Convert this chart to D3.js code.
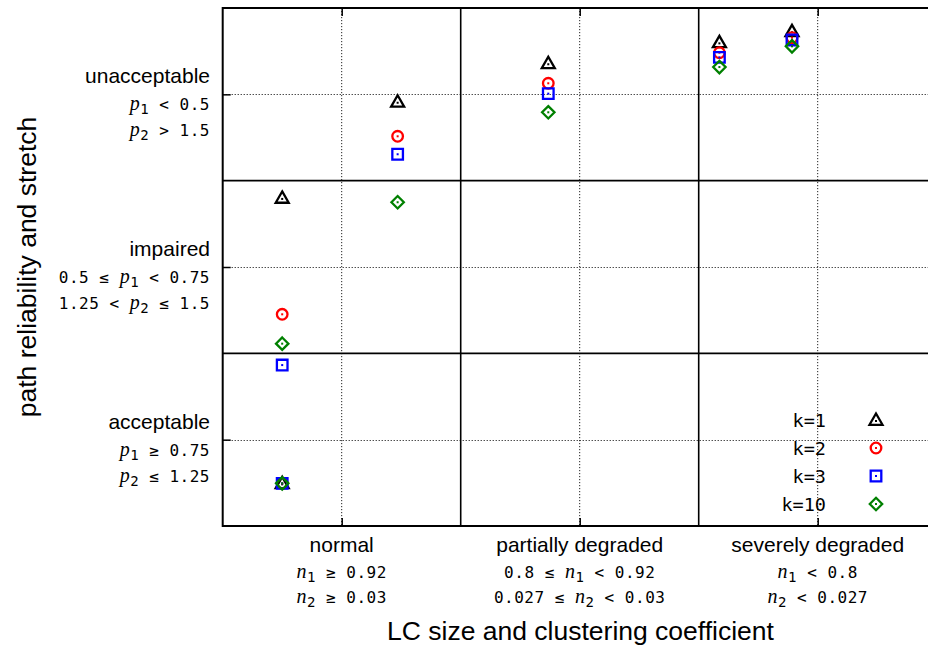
<!DOCTYPE html>
<html>
<head>
<meta charset="utf-8">
<script src="https://cdn.jsdelivr.net/npm/d3@7"></script>
<style>
  body { margin: 0; background: #fff; }
  svg text { white-space: pre; }
  .sans { font-family: "Liberation Sans", Arial, sans-serif; fill: #000; }
  .mono { font-family: "DejaVu Sans Mono", monospace; }
  .var  { font-family: "Liberation Serif", serif; font-style: italic; }
</style>
</head>
<body>
<svg id="chart" width="928" height="648"></svg>
<script>
// ---- data ----------------------------------------------------------------
// Link-quality classes on the y axis (1 = acceptable ... 3 = unacceptable)
const yClassNames = ["acceptable", "impaired", "unacceptable"];
const yCondP1 = ["p_1 ≥ 0.75", "0.5 ≤ p_1 < 0.75", "p_1 < 0.5"];
const yCondP2 = ["p_2 ≤ 1.25", "1.25 < p_2 ≤ 1.5", "p_2 > 1.5"];

// Network-state classes on the x axis (1 = normal ... 3 = severely degraded)
const xClassNames = ["normal", "partially degraded", "severely degraded"];
const xCondN1 = ["n_1 ≥ 0.92", "0.8 ≤ n_1 < 0.92", "n_1 < 0.8"];
const xCondN2 = ["n_2 ≥ 0.03", "0.027 ≤ n_2 < 0.03", "n_2 < 0.027"];

// Scenarios: position on the LC-size / clustering scale
const scenarioX = [0.75, 0.75, 1.235, 1.868, 2.587, 2.892];

// Path reliability / stretch score per scenario, one list per k
const seriesNames = ["k=1", "k=2", "k=3", "k=10"];
const valuesK1  = [2.400, 0.747, 2.957, 3.180, 3.301, 3.365];
const valuesK2  = [1.726, 0.747, 2.757, 3.064, 3.241, 3.328];
const valuesK3  = [1.432, 0.747, 2.653, 3.004, 3.214, 3.315];
const valuesK10 = [1.556, 0.747, 2.375, 2.896, 3.158, 3.278];
const seriesValues = [valuesK1, valuesK2, valuesK3, valuesK10];

const xTitle = "LC size and clustering coefficient";
const yTitle = "path reliability and stretch";

// ---- layout --------------------------------------------------------------
const svg = d3.select("#chart");
const plot = { left: 222.7, right: 936.7, top: 8, bottom: 526 };

const x = d3.scaleLinear().domain([0.5, 3.5]).range([plot.left, plot.right]);
const y = d3.scaleLinear().domain([0.5, 3.5]).range([plot.bottom, plot.top]);

const classTicks = [1, 2, 3];
const classBounds = [1.5, 2.5];

// dotted grid at class centres
const grid = svg.append("g");
grid.selectAll("line.gx").data(classTicks).join("line")
  .attr("x1", d => x(d)).attr("x2", d => x(d))
  .attr("y1", plot.top).attr("y2", plot.bottom)
  .attr("stroke", "#222").attr("stroke-width", 1).attr("stroke-dasharray", "1.2,1.8");
grid.selectAll("line.gy").data(classTicks).join("line")
  .attr("x1", plot.left).attr("x2", plot.right)
  .attr("y1", d => Math.round(y(d)) + 0.5).attr("y2", d => Math.round(y(d)) + 0.5)
  .attr("stroke", "#000").attr("stroke-width", 1).attr("stroke-dasharray", "1,2");

// solid class boundaries
const bounds = svg.append("g").attr("stroke", "#000").attr("stroke-width", 1.6);
bounds.selectAll("line.bx").data(classBounds).join("line")
  .attr("x1", d => x(d)).attr("x2", d => x(d))
  .attr("y1", plot.top).attr("y2", plot.bottom);
bounds.selectAll("line.by").data(classBounds).join("line")
  .attr("x1", plot.left).attr("x2", plot.right)
  .attr("y1", d => y(d)).attr("y2", d => y(d));

// axes: inward ticks only, labels drawn separately
const tick = 8;
svg.append("g").attr("transform", `translate(0,${plot.bottom})`)
  .call(d3.axisTop(x).tickValues(classTicks).tickSize(tick).tickFormat("").tickSizeOuter(0))
  .call(g => g.select(".domain").remove());
svg.append("g").attr("transform", `translate(0,${plot.top})`)
  .call(d3.axisBottom(x).tickValues(classTicks).tickSize(tick).tickFormat("").tickSizeOuter(0))
  .call(g => g.select(".domain").remove());
svg.append("g").attr("transform", `translate(${plot.left},0)`)
  .call(d3.axisRight(y).tickValues(classTicks).tickSize(tick).tickFormat("").tickSizeOuter(0))
  .call(g => g.select(".domain").remove());
svg.selectAll(".tick line").attr("stroke", "#000").attr("stroke-width", 1.5);

// frame
svg.append("rect")
  .attr("x", plot.left).attr("y", plot.top)
  .attr("width", plot.right - plot.left).attr("height", plot.bottom - plot.top)
  .attr("fill", "none").attr("stroke", "#000").attr("stroke-width", 2);

// ---- text helpers ---------------------------------------------------------
// Condition strings use "p_1" style for an italic variable with a subscript.
const monoSize = 16;
function richText(sel, str) {
  const parts = str.split(/([pn])_(\d)/);
  let shifted = false;
  sel.attr("letter-spacing", 0.5);
  parts.forEach((p, i) => {
    if (i % 3 === 0) {
      if (!p) return;
      const t = sel.append("tspan").attr("class", "mono").attr("font-size", monoSize).text(p);
      if (shifted) { t.attr("dy", -4); shifted = false; }
    } else if (i % 3 === 1) {
      sel.append("tspan").attr("class", "var").attr("font-size", monoSize + 4).text(p);
    } else {
      sel.append("tspan").attr("class", "mono").attr("font-size", monoSize - 2).attr("dy", 4).text(p);
      shifted = true;
    }
  });
}

const labelSize = 21;

// y class labels
const yLab = svg.append("g");
classTicks.forEach((c, i) => {
  const base = y(c) - 11;
  yLab.append("text").attr("class", "sans").attr("x", 210).attr("y", base)
    .attr("text-anchor", "end").attr("font-size", labelSize).text(yClassNames[i]);
  richText(yLab.append("text").attr("x", 210).attr("y", base + 27).attr("text-anchor", "end"), yCondP1[i]);
  richText(yLab.append("text").attr("x", 210).attr("y", base + 53).attr("text-anchor", "end"), yCondP2[i]);
});

// x class labels
const xLab = svg.append("g");
classTicks.forEach((c, i) => {
  xLab.append("text").attr("class", "sans").attr("x", x(c)).attr("y", 552)
    .attr("text-anchor", "middle").attr("font-size", labelSize).text(xClassNames[i]);
  richText(xLab.append("text").attr("x", x(c)).attr("y", 578).attr("text-anchor", "middle"), xCondN1[i]);
  richText(xLab.append("text").attr("x", x(c)).attr("y", 603).attr("text-anchor", "middle"), xCondN2[i]);
});

// axis titles
svg.append("text").attr("class", "sans").attr("x", 580.5).attr("y", 640)
  .attr("text-anchor", "middle").attr("font-size", 26.5).text(xTitle);
svg.append("text").attr("class", "sans")
  .attr("transform", `translate(35.5,${(plot.top + plot.bottom) / 2}) rotate(-90)`)
  .attr("text-anchor", "middle").attr("font-size", 26.5).text(yTitle);

// ---- markers ----------------------------------------------------------------
const markerPaths = [
  "M0,-6.5L6.5,4.8L-6.5,4.8Z",        // triangle
  null,                               // circle
  "M-5.3,-5.3H5.3V5.3H-5.3Z",         // square
  "M0,-6.2L6.2,0L0,6.2L-6.2,0Z"       // diamond
];
const markerColors = ["#000000", "#ff0000", "#0000ff", "#008000"];

function drawMarker(g, s) {
  if (s === 1) {
    g.append("circle").attr("r", 5.3);
  } else {
    g.append("path").attr("d", markerPaths[s]);
  }
  g.attr("fill", "none").attr("stroke", markerColors[s]).attr("stroke-width", 2.3);
  g.append("rect").attr("x", -1).attr("y", s === 0 ? 0 : -1).attr("width", 2).attr("height", 2)
    .attr("fill", markerColors[s]).attr("stroke", "none");
}

const points = svg.append("g");
seriesValues.forEach((vals, s) => {
  vals.forEach((v, j) => {
    const g = points.append("g").attr("transform", `translate(${x(scenarioX[j])},${y(v)})`);
    drawMarker(g, s);
  });
});

// ---- legend -----------------------------------------------------------------
const legend = svg.append("g");
seriesNames.forEach((name, s) => {
  const cy = 420 + s * 28;
  legend.append("text").attr("class", "mono").attr("x", 826).attr("y", cy + 6.5)
    .attr("text-anchor", "end").attr("font-size", 18.5).text(name);
  drawMarker(legend.append("g").attr("transform", `translate(876,${cy})`), s);
});
</script>
</body>
</html>
